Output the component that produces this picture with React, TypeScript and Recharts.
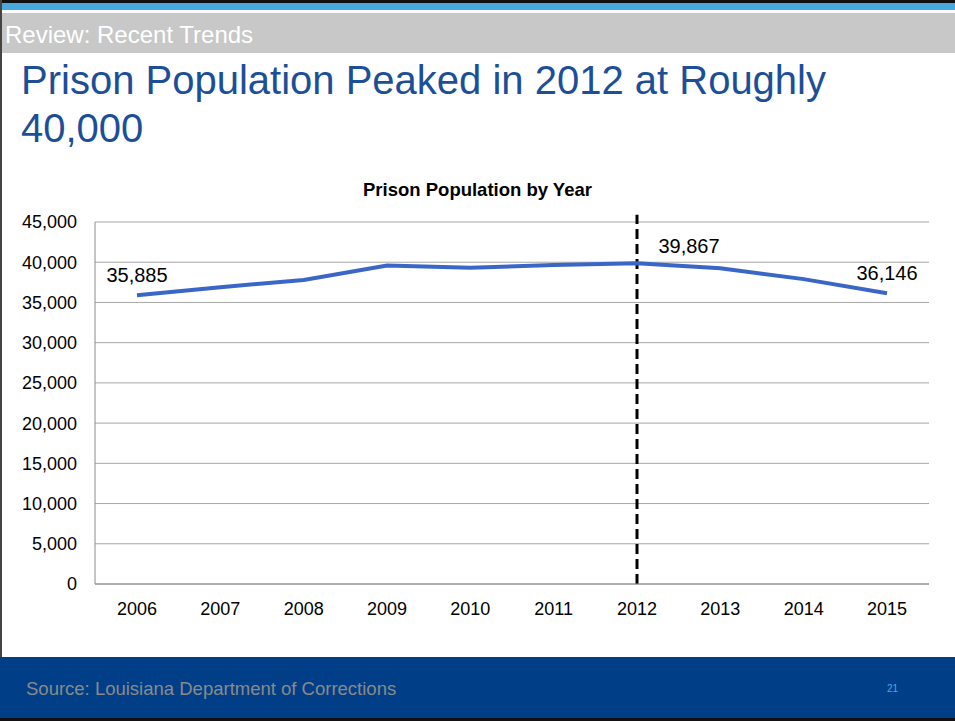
import { CartesianGrid, LabelList, Line, LineChart, ReferenceLine, XAxis, YAxis } from "recharts";

const years = ["2006", "2007", "2008", "2009", "2010", "2011", "2012", "2013", "2014", "2015"];
const population = [35885, 36900, 37800, 39600, 39300, 39650, 39867, 39250, 37900, 36146];
const yTicks = [0, 5000, 10000, 15000, 20000, 25000, 30000, 35000, 40000, 45000];
// only these points carry a value label
const labelled = [0, 6, 9];

const chartData = years.map((year, i) => ({ year, pop: population[i] }));

const FONT = "'Liberation Sans', Arial, sans-serif";

function PointLabel(props: any) {
  const { x, y, value, index } = props;
  if (!labelled.includes(index)) return null;
  const dx = index === 6 ? 52 : 0;
  const dy = index === 6 ? -10 : -13;
  return (
    <text x={x + dx} y={y + dy} textAnchor="middle" fontSize={20} fill="#000" fontFamily={FONT}>
      {value.toLocaleString("en-US")}
    </text>
  );
}

export default function App() {
  return (
    <div
      style={{
        position: "absolute",
        left: 0,
        top: 0,
        width: 955,
        height: 721,
        background: "#fff",
        overflow: "hidden",
        fontFamily: FONT,
      }}
    >
      <div style={{ position: "absolute", left: 0, top: 0, width: 955, height: 3, background: "#111" }} />
      <div style={{ position: "absolute", left: 0, top: 3, width: 955, height: 7, background: "#4aa8e0" }} />
      <div style={{ position: "absolute", left: 0, top: 0, width: 2, height: 721, background: "#444" }} />
      <div
        style={{
          position: "absolute",
          left: 2,
          top: 13,
          width: 953,
          height: 40,
          background: "#c8c8c8",
          color: "#fff",
          fontSize: 24,
          lineHeight: "44px",
          paddingLeft: 3,
        }}
      >
        Review: Recent Trends
      </div>
      <div
        style={{
          position: "absolute",
          left: 21,
          top: 56,
          width: 920,
          color: "#1c4f98",
          fontSize: 40,
          lineHeight: "48px",
        }}
      >
        Prison Population Peaked in 2012 at Roughly
        <br />
        40,000
      </div>
      <div
        style={{
          position: "absolute",
          left: 0,
          top: 179,
          width: 955,
          textAlign: "center",
          fontSize: 18.5,
          fontWeight: "bold",
        }}
      >
        Prison Population by Year
      </div>
      <div style={{ position: "absolute", left: 0, top: 0 }}>
        <LineChart
          width={955}
          height={640}
          data={chartData}
          margin={{ top: 222, right: 26, left: 0, bottom: 26 }}
        >
          <CartesianGrid vertical={false} stroke="#a6a6a6" strokeWidth={1} />
          <XAxis
            dataKey="year"
            axisLine={{ stroke: "#8c8c8c" }}
            tickLine={false}
            tickMargin={12}
            height={30}
            padding={{ left: 42, right: 42 }}
            tick={{ fontSize: 18, fill: "#000", fontFamily: FONT }}
          />
          <YAxis
            domain={[0, 45000]}
            ticks={yTicks}
            width={95}
            axisLine={{ stroke: "#8c8c8c" }}
            tickLine={false}
            tickMargin={12}
            tickFormatter={(v: number) => v.toLocaleString("en-US")}
            tick={{ fontSize: 18, fill: "#000", fontFamily: FONT }}
          />
          <ReferenceLine
            segment={[
              { x: "2012", y: 0 },
              { x: "2012", y: 45900 },
            ]}
            ifOverflow="visible"
            stroke="#000"
            strokeWidth={3}
            strokeDasharray="10 5"
          />
          <Line
            type="linear"
            dataKey="pop"
            stroke="#3a66c8"
            strokeWidth={4}
            dot={false}
            isAnimationActive={false}
          >
            <LabelList dataKey="pop" content={<PointLabel />} />
          </Line>
        </LineChart>
      </div>
      <div
        style={{
          position: "absolute",
          left: 0,
          top: 657,
          width: 955,
          height: 61,
          background: "#003f87",
        }}
      >
        <div style={{ position: "absolute", left: 26, top: 21, fontSize: 18.5, color: "#8a8a8a" }}>
          Source: Louisiana Department of Corrections
        </div>
        <div style={{ position: "absolute", left: 887, top: 26, fontSize: 10, color: "#4aa8e0" }}>21</div>
      </div>
      <div style={{ position: "absolute", left: 0, top: 718, width: 955, height: 3, background: "#111" }} />
    </div>
  );
}
